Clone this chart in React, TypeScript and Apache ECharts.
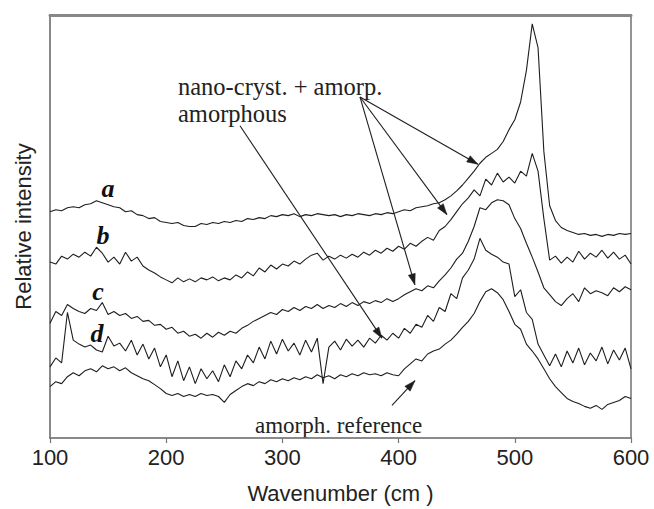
import React, { useEffect, useRef } from "react";
import * as echarts from "echarts";

const wavenumbers = [100,105,110,115,120,125,130,135,140,145,150,155,160,165,170,175,180,185,190,195,200,205,210,215,220,225,230,235,240,245,250,255,260,265,270,275,280,285,290,295,300,305,310,315,320,325,330,335,340,345,350,355,360,365,370,375,380,385,390,395,400,405,410,415,420,425,430,435,440,445,450,455,460,465,470,475,480,485,490,495,500,505,510,515,520,525,530,535,540,545,550,555,560,565,570,575,580,585,590,595,600];

const curveA = [229,231,230,233,234,233,236,237,240,238,
236,234,233,229,230,226,225,222,223,219,
218,217,218,215,214,214,217,216,218,217,
219,218,220,219,222,221,223,222,225,224,
226,225,227,224,226,225,227,226,225,226,
224,226,225,227,226,225,227,226,228,227,
229,231,230,233,234,235,237,238,241,245,
250,256,263,270,278,284,288,292,300,312,
322,340,372,419,395,290,235,220,213,210,
208,206,207,205,206,204,206,205,207,206,
207];

const curveB = [178,176,184,181,186,183,188,184,193,187,
178,183,176,188,179,183,174,170,167,163,
160,157,162,158,161,158,162,160,163,159,
162,160,165,162,168,164,172,168,175,171,
176,174,179,176,181,185,187,180,184,181,
185,182,186,183,188,185,190,187,192,189,
194,191,197,194,199,203,200,210,214,221,
229,237,243,251,245,262,256,268,259,264,
258,270,265,288,270,222,180,184,177,183,
178,189,181,187,183,190,182,188,181,185,
176];

const curveC = [116,128,124,135,131,128,126,131,129,137,
125,128,124,126,121,123,118,119,114,115,
110,112,106,108,103,105,101,106,102,107,
104,108,106,111,114,118,121,124,127,125,
130,128,132,129,133,131,135,131,134,132,
136,133,137,134,138,136,139,137,141,138,
141,145,148,151,149,154,152,159,165,172,
181,187,199,214,233,231,238,241,240,236,
222,212,197,183,168,152,145,138,134,141,
146,138,152,146,149,147,144,152,148,153,
150];

const curveD = [72,81,76,127,99,95,92,94,89,87,
103,93,96,88,99,84,95,80,91,72,
84,62,78,58,72,55,70,60,68,57,
74,62,78,70,84,76,92,80,98,85,
100,88,96,84,99,87,101,55,92,98,
89,100,93,99,92,101,96,104,99,106,
101,111,106,115,112,124,118,132,128,146,
141,162,170,181,202,190,186,183,178,176,
143,150,127,120,95,84,73,85,72,88,
76,91,74,86,78,92,75,89,79,91,
70];

const curveRef = [52,57,55,62,66,63,68,70,67,73,
70,72,68,71,66,63,60,58,54,50,
45,43,45,42,44,42,45,43,44,42,
36,44,48,52,55,53,57,55,59,57,
60,58,61,59,62,60,64,61,63,60,
64,62,65,63,66,64,65,63,66,64,
63,70,75,80,78,85,88,90,95,99,
105,112,118,126,138,148,151,147,140,128,
115,110,95,88,80,70,60,52,46,40,
37,35,32,30,33,29,34,36,38,42,
40];

const xTicks = [100, 200, 300, 400, 500, 600];

// arrow endpoints in data coordinates [wavenumber, intensity]
const nanoSource = [366.8, 345];
const nanoTargets = [[468.3, 277], [441.6, 226], [414, 155]];
const amorphousArrow = [[263.5, 316], [385.7, 101]];
const referenceArrow = [[394.3, 33], [414.1, 58]];

const curveLabels = ["a", "b", "c", "d"];

export default function App() {
  const ref = useRef<HTMLDivElement>(null);
  useEffect(() => {
    if (!ref.current) return;
    const chart = echarts.init(ref.current, null, { renderer: "svg" });
    const mk = (vals: number[]) => wavenumbers.map((w, i) => [w, vals[i]]);
    const lineStyle = { color: "#1e1e1e", width: 1.1 };
    const curves = [curveA, curveB, curveC, curveD, curveRef];
    const arrows: number[][][] = [];
    nanoTargets.forEach((t) => arrows.push([nanoSource, t]));
    arrows.push(amorphousArrow);
    arrows.push(referenceArrow);
    const arrowData = arrows.map((a) => [{ coord: a[0] }, { coord: a[1] }]);

    const labelPos = [[108, 188], [103, 235], [98, 291], [97, 333]];
    const serif = "'Liberation Serif', 'Times New Roman', serif";
    const sans = "'Liberation Sans', Arial, sans-serif";

    const baseGraphic: any[] = [
      ...curveLabels.map((l, i) => ({
        type: "text",
        x: labelPos[i][0],
        y: labelPos[i][1],
        style: {
          text: l,
          font: `italic bold 26px ${serif}`,
          fill: "#111",
          align: "center",
          verticalAlign: "middle",
        },
      })),
      {
        type: "text",
        x: 178,
        y: 86,
        style: { text: "nano-cryst. + amorp.", font: `24.5px ${serif}`, fill: "#222", verticalAlign: "middle", lineHeight: 24 },
      },
      {
        type: "text",
        x: 178,
        y: 113,
        style: { text: "amorphous", font: `24.5px ${serif}`, fill: "#222", verticalAlign: "middle", lineHeight: 24 },
      },
      {
        type: "text",
        x: 255,
        y: 425,
        style: { text: "amorph. reference", font: `23px ${serif}`, fill: "#222", verticalAlign: "middle" },
      },
    ];

    const axisCommon = {
      type: "value",
      splitLine: { show: false },
    };

    chart.setOption({
      animation: false,
      backgroundColor: "#ffffff",
      grid: { left: 50, right: 23, top: 15, bottom: 66, show: true, borderColor: "#888", borderWidth: 1.2, backgroundColor: "transparent" },
      xAxis: [
        {
          ...axisCommon,
          min: 100,
          max: 600,
          interval: 100,
          position: "bottom",
          axisLine: { show: true, onZero: false, lineStyle: { color: "#777", width: 1.5 } },
          axisTick: { show: true, inside: false, length: 5, lineStyle: { color: "#777", width: 1.2 } },
          axisLabel: {
            color: "#222",
            fontFamily: sans,
            fontSize: 22,
            margin: 8,
            formatter: (v: number) => (xTicks.includes(v) ? String(v) : ""),
          },
          name: "Wavenumber (cm )",
          nameLocation: "middle",
          nameGap: 44,
          nameTextStyle: { color: "#222", fontFamily: sans, fontSize: 22 },
        },
        {
          ...axisCommon,
          min: 100,
          max: 600,
          position: "top",
          axisLine: { show: true, onZero: false, lineStyle: { color: "#888", width: 3 } },
          axisTick: { show: false },
          axisLabel: { show: false },
        },
      ],
      yAxis: [
        {
          ...axisCommon,
          min: 0,
          max: 428,
          position: "left",
          axisLine: { show: true, onZero: false, lineStyle: { color: "#888", width: 2 } },
          axisTick: { show: false },
          axisLabel: { show: false },
          name: "Relative intensity",
          nameLocation: "middle",
          nameGap: 16,
          nameTextStyle: { color: "#222", fontFamily: sans, fontSize: 22 },
        },
        {
          ...axisCommon,
          min: 0,
          max: 428,
          position: "right",
          axisLine: { show: true, onZero: false, lineStyle: { color: "#888", width: 1.5 } },
          axisTick: { show: false },
          axisLabel: { show: false },
        },
      ],
      series: [
        ...curves.map((c, i) => ({
          type: "line",
          name: i < 4 ? curveLabels[i] : "ref",
          data: mk(c),
          showSymbol: false,
          symbol: "none",
          lineStyle,
          silent: true,
        })),
        {
          type: "line",
          name: "arrows",
          data: [],
          silent: true,
          markLine: {
            silent: true,
            symbol: ["none", "none"],
            label: { show: false },
            lineStyle: { color: "#1e1e1e", width: 1.1, type: "solid" },
            emphasis: { disabled: true },
            data: arrowData,
          },
        },
        {
          type: "line",
          name: "frame",
          xAxisIndex: 1,
          yAxisIndex: 1,
          data: [],
          silent: true,
          showSymbol: false,
        },
      ],
      graphic: baseGraphic,
    });

    // arrowheads, placed through the chart's own coordinate conversion
    const heads = arrows.map((a) => {
      const p0 = chart.convertToPixel({ gridIndex: 0 }, a[0]) as number[];
      const p1 = chart.convertToPixel({ gridIndex: 0 }, a[1]) as number[];
      const dx = p1[0] - p0[0];
      const dy = p1[1] - p0[1];
      const len = Math.sqrt(dx * dx + dy * dy) || 1;
      const ux = dx / len;
      const uy = dy / len;
      const L = 11;
      const W = 3.6;
      const bx = p1[0] - ux * L;
      const by = p1[1] - uy * L;
      return {
        type: "polygon",
        shape: {
          points: [
            [p1[0], p1[1]],
            [bx - uy * W, by + ux * W],
            [bx + uy * W, by - ux * W],
          ],
        },
        style: { fill: "#1e1e1e", stroke: "#1e1e1e", lineWidth: 0.5 },
        silent: true,
      };
    });
    chart.setOption({ graphic: [...baseGraphic, ...heads] }, { replaceMerge: ["graphic"] });

    return () => chart.dispose();
  }, []);
  return (
    <div
      ref={ref}
      style={{ position: "fixed", left: 0, top: 0, width: 654, height: 509, background: "#fff" }}
    />
  );
}
